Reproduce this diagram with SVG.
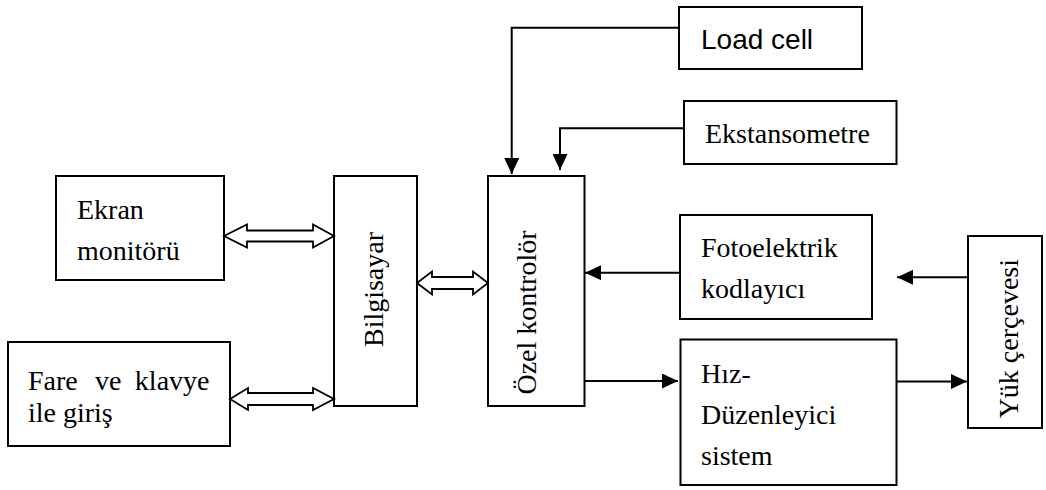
<svg xmlns="http://www.w3.org/2000/svg" width="1046" height="490" viewBox="0 0 1046 490">
<style>
.box{fill:#fff;stroke:#000;stroke-width:2}
.t{font-family:"Liberation Serif","Times New Roman",serif;font-size:28px;fill:#000}
.a{font-family:"Liberation Sans",Arial,sans-serif;font-size:28px;fill:#000}
.c{fill:none;stroke:#000;stroke-width:2}
.d{fill:#fff;stroke:#000;stroke-width:1.8;stroke-linejoin:miter}
</style>
<defs>
<marker id="ah" markerUnits="userSpaceOnUse" markerWidth="16" markerHeight="15" refX="16" refY="7.5" orient="auto" viewBox="0 0 16 15">
<path d="M0,0 L16,7.5 L0,15 z" fill="#000"/>
</marker>
</defs>
<rect width="1046" height="490" fill="#fff"/>
<g id="ekran">
<rect class="box" x="56" y="176" width="168" height="104"/>
<text class="t" x="77" y="218.5">Ekran</text>
<text class="t" x="77" y="260">monitörü</text>
</g>
<g id="fare">
<rect class="box" x="8" y="342" width="222" height="104"/>
<text class="t" x="28" y="390">Fare</text>
<text class="t" x="95" y="390">ve</text>
<text class="t" x="209.5" y="390" text-anchor="end">klavye</text>
<text class="t" x="28" y="422">ile giriş</text>
</g>
<g id="bilgisayar">
<rect class="box" x="334" y="176" width="83" height="230"/>
<text class="t" text-anchor="middle" transform="translate(383,289.5) rotate(-90)">Bilgisayar</text>
</g>
<g id="ozel">
<rect class="box" x="488" y="176" width="96.5" height="230"/>
<text class="t" text-anchor="middle" transform="translate(536,312.5) rotate(-90)">Özel kontrolör</text>
</g>
<g id="loadcell">
<rect class="box" x="679" y="7" width="183" height="62"/>
<text class="a" x="701" y="49">Load cell</text>
</g>
<g id="ekstansometre">
<rect class="box" x="684" y="101" width="212.5" height="63"/>
<text class="t" x="705" y="143">Ekstansometre</text>
</g>
<g id="fotoelektrik">
<rect class="box" x="680" y="215" width="192" height="104"/>
<text class="t" x="701" y="257">Fotoelektrik</text>
<text class="t" x="701" y="298">kodlayıcı</text>
</g>
<g id="hiz">
<rect class="box" x="680.5" y="339.5" width="216" height="145.5"/>
<text class="t" x="701" y="382.5">Hız-</text>
<text class="t" x="701" y="423.5">Düzenleyici</text>
<text class="t" x="701" y="464.5">sistem</text>
</g>
<g id="yuk">
<rect class="box" x="968" y="236" width="74" height="192"/>
<text class="t" text-anchor="middle" transform="translate(1017.5,338.7) rotate(-90)">Yük çerçevesi</text>
</g>
<g id="connectors">
<polygon class="d" points="224,236 247,224.5 247,230.5 313,230.5 313,224.5 334,236 313,247.5 313,241.5 247,241.5 247,247.5"/>
<polygon class="d" points="230,399 248,388 248,393 313,393 313,388 334,399 313,410 313,405 248,405 248,410"/>
<polygon class="d" points="417,283 432,271.5 432,277 473,277 473,271.5 488,283 473,294.5 473,289 432,289 432,294.5"/>
<polyline class="c" points="679,27.7 511.7,27.7 511.7,174" marker-end="url(#ah)"/>
<polyline class="c" points="684,128.3 560,128.3 560,170" marker-end="url(#ah)"/>
<line class="c" x1="680" y1="272.7" x2="585" y2="272.7" marker-end="url(#ah)"/>
<line class="c" x1="968" y1="277.3" x2="897" y2="277.3" marker-end="url(#ah)"/>
<line class="c" x1="584.5" y1="381" x2="678" y2="381" marker-end="url(#ah)"/>
<line class="c" x1="896.5" y1="381.5" x2="967" y2="381.5" marker-end="url(#ah)"/>
</g>
</svg>
